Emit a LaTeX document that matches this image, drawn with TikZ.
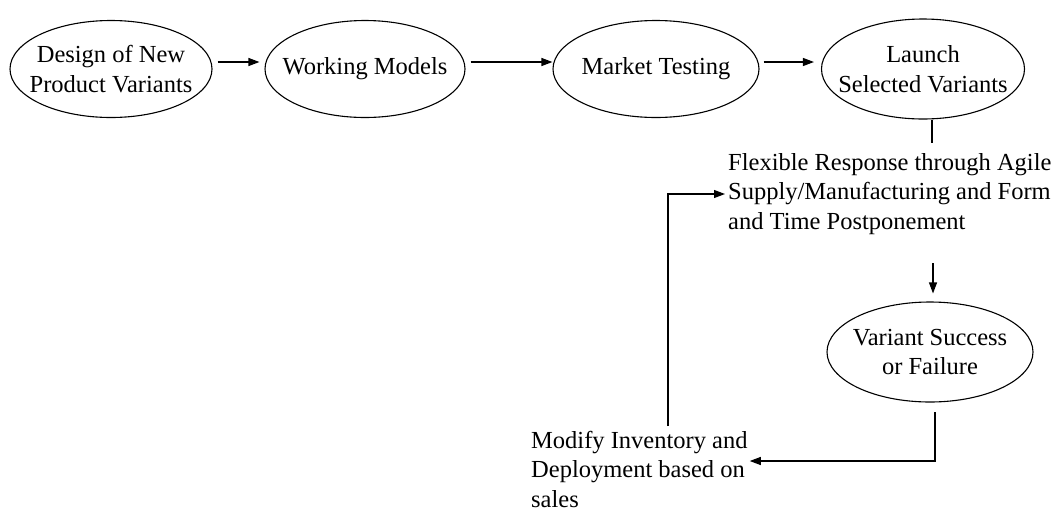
\documentclass[tikz,border=0pt]{standalone}
\usepackage{fontspec}
\setmainfont{Liberation Serif}
\usetikzlibrary{shapes.geometric,arrows.meta}
\begin{document}
\begin{tikzpicture}[x=1pt,y=-1pt,
  every node/.style={font=\fontsize{24.5}{29.5}\selectfont},
  oval/.style={ellipse,draw,line width=1.1pt,inner xsep=-30pt,inner ysep=-20pt,align=center},
  note/.style={align=left,inner sep=0pt,anchor=west},
  flow/.style={line width=1.1pt,-{Triangle[length=11pt,width=8pt]}},
  link/.style={line width=1.1pt}]
\useasboundingbox (0,0) rectangle (1061,515);

% main chain of stages
\node[oval,minimum width=202pt,minimum height=97pt] (design) at (111,69) {Design of New\\Product Variants};
\node[oval,minimum width=200pt,minimum height=97pt] (models) at (365,69) {Working Models};
\node[oval,minimum width=206pt,minimum height=97pt] (market) at (656,69) {Market Testing};
\node[oval,minimum width=203pt,minimum height=100pt] (launch) at (923,69) {Launch\\Selected Variants};
\node[oval,minimum width=206pt,minimum height=100pt] (success) at (930,352) {Variant Success\\or Failure};

% free-standing texts
\node[note] (flex) at (728,194) {Flexible Response through Agile\\Supply/Manufacturing and Form\\and Time Postponement};
\node[note] (modify) at (531,469) {Modify Inventory and\\Deployment based on\\sales};

% connector ends
\coordinate (flexin) at (932,143);
\coordinate (flexout) at (933,263);
\coordinate (succout) at (935,412);
\coordinate (modout) at (668,426);

% connectors
\draw[flow] ([xshift=5pt,yshift=7pt]design.east) -- ([xshift=-5pt,yshift=7pt]models.west);
\draw[flow] ([xshift=5pt,yshift=7pt]models.east) -- ([yshift=7pt]market.west);
\draw[flow] ([xshift=4pt,yshift=7pt]market.east) -- ([xshift=-7pt,yshift=7pt]launch.west);
\draw[link] (launch.south -| flexin) -- (flexin);
\draw[flow,shorten >=8pt] (flexout) -- (flexout |- success.north);
\draw[flow] (succout) |- ([xshift=2pt,yshift=8pt]modify.east);
\draw[flow] (modout) |- ([xshift=-3pt]flex.west);
\end{tikzpicture}
\end{document}
